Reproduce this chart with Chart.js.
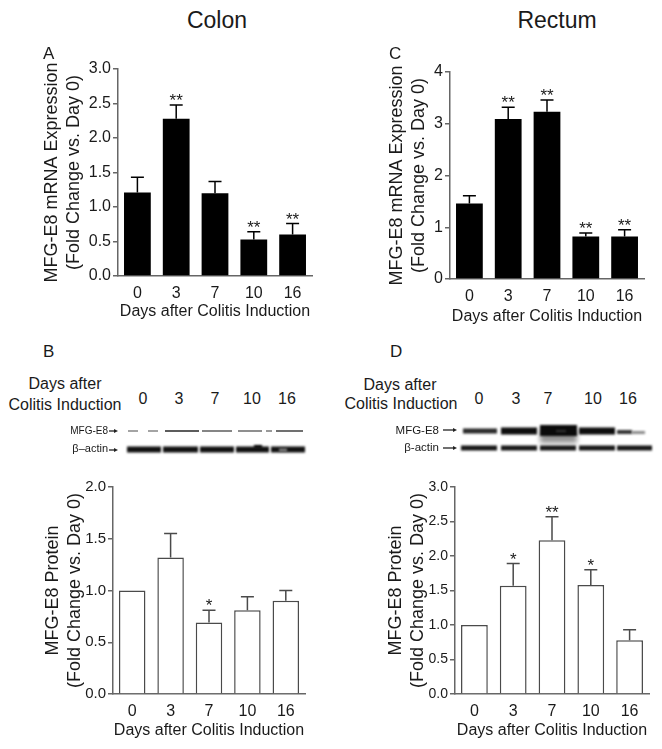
<!DOCTYPE html>
<html>
<head>
<meta charset="utf-8">
<script src="https://cdn.jsdelivr.net/npm/chart.js@4.4.0/dist/chart.umd.min.js"></script>
<style>
body { margin:0; background:#fff; }
#fig { position:relative; width:662px; height:749px; font-family:'Liberation Sans', Arial, sans-serif; color:#1a1a1a; overflow:hidden; }
#fig canvas { position:absolute; }
.t { position:absolute; line-height:1; white-space:nowrap; }
</style>
</head>
<body>
<div id="fig">
  <canvas id="chartA" width="331" height="290" style="left:0;top:40px"></canvas>
  <canvas id="chartC" width="331" height="290" style="left:331px;top:40px"></canvas>
  <canvas id="chartB" width="331" height="279" style="left:0;top:470px"></canvas>
  <canvas id="chartD" width="331" height="279" style="left:331px;top:470px"></canvas>
  <canvas id="blot" width="662" height="50" style="left:0;top:415px"></canvas>
</div>
<script>
// categorias (dias tras la induccion de colitis)
const days = ['0', '3', '7', '10', '16'];

// A) colon, ARNm
const colonMrna = [1.21, 2.28, 1.20, 0.53, 0.60];
const colonMrnaErr = [0.22, 0.20, 0.17, 0.11, 0.16];
const colonMrnaSig = ['', '**', '', '**', '**'];
const colonMrnaTicks = [0, 3.0, 0.5];

// C) recto, ARNm
const rectumMrna = [1.46, 3.09, 3.23, 0.82, 0.82];
const rectumMrnaErr = [0.15, 0.23, 0.23, 0.07, 0.13];
const rectumMrnaSig = ['', '**', '**', '**', '**'];
const rectumMrnaTicks = [0, 4, 1];

// B) colon, proteina
const colonProt = [1.00, 1.32, 0.69, 0.81, 0.90];
const colonProtErr = [0, 0.23, 0.12, 0.13, 0.10];
const colonProtSig = ['', '', '*', '', ''];
const colonProtTicks = [0, 2.0, 0.5];

// D) recto, proteina
const rectumProt = [1.00, 1.57, 2.23, 1.58, 0.78];
const rectumProtErr = [0, 0.32, 0.34, 0.22, 0.15];
const rectumProtSig = ['', '*', '**', '*', ''];
const rectumProtTicks = [0, 3.0, 0.5];

const FONT = "'Liberation Sans', Arial, sans-serif";
const INK = '#1a1a1a';
const AXIS = '#666';
Chart.defaults.font.family = FONT;
Chart.defaults.color = INK;

// textos sueltos de la figura (titulos, letras, cabeceras del western)
const fig = document.getElementById('fig');
function texto(str, x, base, size, align) {
  const d = document.createElement('div');
  d.className = 't';
  d.textContent = str;
  d.style.fontSize = size + 'px';
  d.style.top = (base - 0.8465 * size) + 'px';
  if (align === 'center') { d.style.left = x + 'px'; d.style.transform = 'translateX(-50%)'; }
  else if (align === 'right') { d.style.right = (662 - x) + 'px'; }
  else d.style.left = x + 'px';
  fig.appendChild(d);
}

texto('Colon', 217, 28, 23, 'center');
texto('Rectum', 557, 28, 23, 'center');
texto('A', 43, 59, 17, 'left');
texto('C', 389, 59, 17, 'left');
texto('B', 43, 357, 17, 'left');
texto('D', 390, 357, 17, 'left');

texto('Days after', 65, 390, 16, 'center');
texto('Colitis Induction', 65, 411, 16, 'center');
texto('Days after', 400, 391, 16, 'center');
texto('Colitis Induction', 401, 410, 16, 'center');
const laneL = [143, 179, 215, 252, 287];
const laneR = [479, 516, 548, 593, 628];
days.forEach((d, i) => {
  texto(d, laneL[i], 405, 16, 'center');
  texto(d, laneR[i], 405, 16, 'center');
});
texto('MFG-E8', 108, 434, 10, 'right');
texto('\u03B2\u2013actin', 108, 452, 11, 'right');
texto('MFG-E8', 439, 435, 11.5, 'right');
texto('\u03B2-actin', 439, 452, 11.5, 'right');

// barras de error + asteriscos, dibujadas con la escala y del grafico
function barrasError(err, sig, color) {
  return {
    id: 'barrasError',
    afterDatasetsDraw(chart) {
      const ctx = chart.ctx;
      const y = chart.scales.y;
      const vals = chart.data.datasets[0].data;
      ctx.save();
      ctx.strokeStyle = color;
      ctx.lineWidth = 1.5;
      ctx.fillStyle = INK;
      ctx.font = '17px ' + FONT;
      ctx.textAlign = 'center';
      ctx.textBaseline = 'alphabetic';
      chart.getDatasetMeta(0).data.forEach((bar, i) => {
        const top = y.getPixelForValue(vals[i] + err[i]);
        if (err[i] > 0) {
          ctx.beginPath();
          ctx.moveTo(bar.x, bar.y);
          ctx.lineTo(bar.x, top);
          ctx.moveTo(bar.x - 6.5, top);
          ctx.lineTo(bar.x + 6.5, top);
          ctx.stroke();
        }
        if (sig[i]) ctx.fillText(sig[i], bar.x, top + 1);
      });
      ctx.restore();
    }
  };
}

function panel(id, box, area, datos, err, sig, ticks, dec, yTitulo, yCentro, relleno, tam) {
  const [min, max, step] = ticks;
  new Chart(document.getElementById(id), {
    type: 'bar',
    data: {
      labels: days,
      datasets: [{
        data: datos,
        backgroundColor: relleno ? '#000' : '#fff',
        borderColor: relleno ? '#000' : '#4a4a4a',
        borderWidth: relleno ? 0 : 1.5,
        barPercentage: 0.69,
        categoryPercentage: 1
      }]
    },
    options: {
      responsive: false,
      animation: false,
      devicePixelRatio: 1,
      layout: { padding: { left: 0, bottom: 0, top: area.t - box.y, right: box.x + box.w - area.r } },
      plugins: { legend: { display: false }, tooltip: { enabled: false } },
      scales: {
        x: {
          grid: { display: false },
          border: { color: AXIS, width: 1.5 },
          ticks: { padding: 0, font: { size: 16 }, color: INK },
          title: {
            display: true, text: 'Days after Colitis Induction', color: INK,
            font: { size: 16 }, padding: { top: 0, bottom: box.y + box.h - area.xt - 9.6 }
          },
          afterFit: s => { s.height = box.y + box.h - area.b; }
        },
        y: {
          min: min, max: max,
          ticks: { stepSize: step, padding: 2, font: { size: tam }, color: INK, callback: v => v.toFixed(dec) },
          grid: { drawOnChartArea: false, drawTicks: true, tickLength: 5, color: AXIS, lineWidth: 1.5 },
          border: { color: AXIS, width: 1.5 },
          title: {
            display: true, text: yTitulo, color: INK,
            font: { size: 18 }, padding: { top: yCentro - box.x - 10.8, bottom: 0 }
          },
          afterFit: s => { s.width = area.l - box.x; }
        }
      }
    },
    plugins: [barrasError(err, sig, relleno ? '#000' : '#4a4a4a')]
  });
}

const tituloMrna = ['MFG-E8 mRNA Expression', '(Fold Change vs. Day 0)'];
const tituloProt = ['MFG-E8 Protein', '(Fold Change vs. Day 0)'];

panel('chartA', { x: 0, y: 40, w: 331, h: 290 }, { l: 118, r: 312, t: 69, b: 276, xt: 312 },
  colonMrna, colonMrnaErr, colonMrnaSig, colonMrnaTicks, 1, tituloMrna, 52, true, 16);
panel('chartC', { x: 331, y: 40, w: 331, h: 290 }, { l: 450, r: 644, t: 72, b: 279, xt: 317 },
  rectumMrna, rectumMrnaErr, rectumMrnaSig, rectumMrnaTicks, 0, tituloMrna, 397, true, 16);
panel('chartB', { x: 0, y: 470, w: 331, h: 279 }, { l: 113, r: 305, t: 487, b: 694, xt: 731 },
  colonProt, colonProtErr, colonProtSig, colonProtTicks, 1, tituloProt, 53, false, 15);
panel('chartD', { x: 331, y: 470, w: 331, h: 279 }, { l: 455, r: 649, t: 487, b: 694, xt: 731 },
  rectumProt, rectumProtErr, rectumProtSig, rectumProtTicks, 1, tituloProt, 396, false, 14);

// bandas del western blot (solo decorativo)
const bc = document.getElementById('blot').getContext('2d');
const Y0 = 415;
function banda(x1, x2, yc, h, color, blur) {
  bc.save();
  bc.filter = 'blur(' + (blur || 0.8) + 'px)';
  bc.fillStyle = color;
  bc.fillRect(x1, yc - Y0 - h / 2, x2 - x1, h);
  bc.restore();
}
function flecha(x1, x2, y) {
  bc.save();
  bc.strokeStyle = '#222';
  bc.fillStyle = '#222';
  bc.lineWidth = 1.3;
  bc.beginPath();
  bc.moveTo(x1, y - Y0); bc.lineTo(x2 - 3, y - Y0); bc.stroke();
  bc.beginPath();
  bc.moveTo(x2, y - Y0); bc.lineTo(x2 - 4, y - Y0 - 2); bc.lineTo(x2 - 4, y - Y0 + 2); bc.fill();
  bc.restore();
}
flecha(109, 118, 431);
flecha(109, 118, 450);
flecha(443, 457, 430);
flecha(443, 457, 448);

// colon: MFG-E8 debil
[[128, 138, 0.45], [148, 158, 0.45], [165, 199, 0.8], [202, 232, 0.6], [238, 262, 0.55], [266, 272, 0.5], [276, 303, 0.7]]
  .forEach(([a, b, o]) => banda(a, b, 431, 1.8, 'rgba(30,30,30,' + o + ')', 0.6));
// colon: beta-actina
[[127, 161], [163, 198], [200, 234], [236, 269], [271, 305]].forEach(([a, b]) => banda(a, b, 449.5, 6, '#111', 0.9));
banda(254, 262, 447, 4, '#111', 1);
banda(279, 287, 450, 3, 'rgba(160,160,160,0.8)', 1);

// recto: MFG-E8
banda(463, 497, 431, 5, '#2a2a2a', 1);
banda(501, 537, 431, 7, '#0d0d0d', 1);
banda(540, 577, 436, 14, 'rgba(60,60,60,0.55)', 2.5);
banda(540, 577, 430.5, 11, '#0a0a0a', 1.2);
banda(556, 566, 431, 2, 'rgba(70,70,70,0.7)', 1);
banda(579, 615, 431, 7, '#0d0d0d', 1);
banda(617, 632, 432, 4, '#333', 1);
banda(632, 645, 432.5, 3, 'rgba(90,90,90,0.7)', 1.2);
// recto: beta-actina
[[461, 497], [501, 537], [540, 576], [579, 615], [617, 652]].forEach(([a, b]) => banda(a, b, 448, 5, '#161616', 0.9));
</script>
</body>
</html>
